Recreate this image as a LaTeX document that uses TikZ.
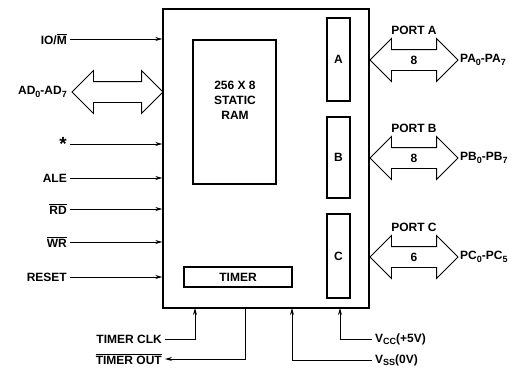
\documentclass[tikz,border=0pt]{standalone}
\usepackage{fontspec}
\setmainfont{Liberation Sans}
\usetikzlibrary{positioning, arrows.meta, calc, shapes.arrows}
\newcommand{\ovl}[1]{$\overline{\hbox{#1}}$}
\newcommand{\sub}[1]{\raisebox{-2.5pt}{\fontsize{9}{9}\selectfont #1}}

\begin{document}
\begin{tikzpicture}[x=1pt, y=-1pt,
  font=\fontsize{12}{15}\selectfont\bfseries,
  blk/.style={draw, line width=1.4pt, inner sep=0pt},
  sig/.style={line width=0.9pt, -{Stealth[length=7pt, width=4pt]}},
  pin/.style={anchor=east, inner sep=3pt},
  pinr/.style={anchor=west, inner sep=3pt},
  bus/.style={draw, line width=0.9pt, double arrow, double arrow head extend=11pt,
              inner xsep=0pt, inner ysep=10pt, minimum width=0pt, minimum height=#1}
]
\useasboundingbox (0,0) rectangle (530,367);

% chip and inner blocks
\node[blk, minimum width=206pt, minimum height=299pt] (chip) at (266,158.5) {};
\node[blk, minimum width=83pt, minimum height=144pt] (ram) at (234.5,112) {};
\node[align=center] (ramtxt) at (235,100) {256 X 8\\STATIC\\RAM};
\node[blk, minimum width=23pt, minimum height=83pt] (porta) at (338.5,59.5) {A};
\node[blk, minimum width=23pt, minimum height=81pt] (portb) at (338.5,157.5) {B};
\node[blk, minimum width=23pt, minimum height=84pt] (portc) at (338.5,256) {C};
\node[blk, minimum width=108pt, minimum height=20pt] (timer) at (238,277) {TIMER};

% left side pins
\node[pin] (iom) at (70,39) {IO/\ovl{M}};
\node[pin] (ast) at (70,144) {\raisebox{-5pt}{\fontsize{19}{19}\selectfont *}};
\node[pin] (ale) at (70,178) {ALE};
\node[pin] (rd) at (70,209) {\ovl{RD}};
\node[pin] (wr) at (70,242) {\ovl{WR}};
\node[pin] (reset) at (70,277) {RESET};
\foreach \p in {iom, ast, ale, rd, wr, reset}
  \draw[sig] (\p.east) -- (\p.east -| chip.west);

% address/data bus
\node[bus=91pt] (busad) at (117.5,92) {};
\node[pin] (adl) at (70,92) {AD\sub{0}-AD\sub{7}};

% ports
\node[bus=88pt] (busa) at (414,60) {};
\node[bus=88pt] (busb) at (414,158) {};
\node[bus=88pt] (busc) at (414,257) {};
\node (wa) at (414,60) {8};
\node (wb) at (414,158) {8};
\node (wc) at (414,257) {6};
\node (pla) at (414,30) {PORT A};
\node (plb) at (414,128) {PORT B};
\node (plc) at (414,227) {PORT C};
\node[pinr] (pa) at (457,60) {PA\sub{0}-PA\sub{7}};
\node[pinr] (pb) at (457,158) {PB\sub{0}-PB\sub{7}};
\node[pinr] (pc) at (457,257) {PC\sub{0}-PC\sub{5}};

% bottom pins
\coordinate (clkin) at (195,308);
\coordinate (tout) at (245,308);
\coordinate (vssin) at (292,308);
\coordinate (vccin) at (340,308);
\node[pin] (clk) at (165,339) {TIMER CLK};
\node[pin] (tmo) at (165,359) {\ovl{TIMER OUT}};
\node[pinr] (vcc) at (372,339) {V\sub{CC}(+5V)};
\node[pinr] (vss) at (372,360) {V\sub{SS}(0V)};
\draw[sig] (clk.east) -| (clkin);
\draw[sig] (tout) |- (tmo.east);
\draw[sig] (vcc.west) -| (vccin);
\draw[sig] (vss.west) -| (vssin);
\end{tikzpicture}
\end{document}
